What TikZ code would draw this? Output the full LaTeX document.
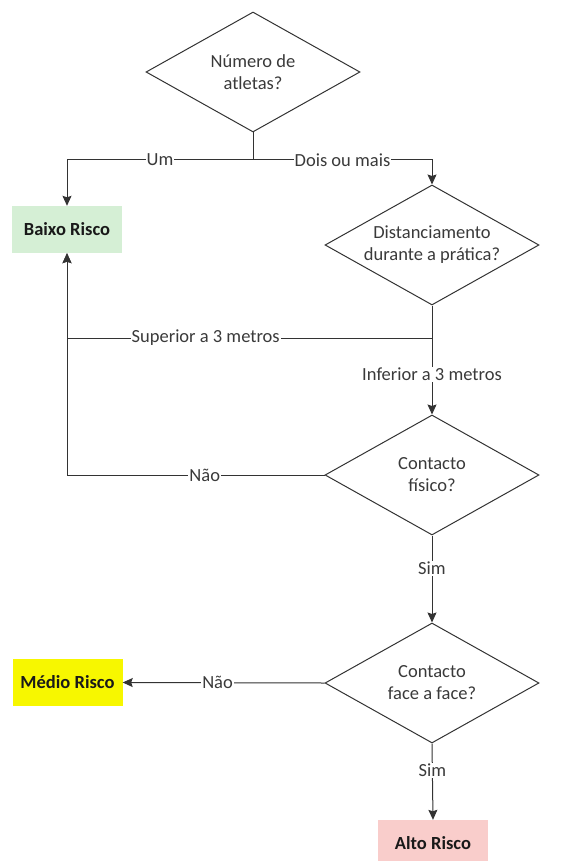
\documentclass[tikz,border=0pt]{standalone}
\usepackage{fontspec}
\setmainfont{Carlito}
\usetikzlibrary{shapes.geometric,arrows.meta}
\definecolor{lineC}{HTML}{333333}
\definecolor{textC}{HTML}{3A3A3A}
\definecolor{greenF}{HTML}{D5EFD5}
\definecolor{yellowF}{HTML}{F7F700}
\definecolor{pinkF}{HTML}{F9CDCB}
\tikzset{
  dia/.style={diamond, draw=lineC, line width=1pt, fill=white, minimum width=214pt, minimum height=120pt, inner sep=0pt},
  dtext/.style={align=center, text=textC, font=\fontsize{18.5}{22}\selectfont, inner sep=0pt},
  res/.style={minimum width=110pt, minimum height=47pt, inner sep=0pt, font=\bfseries\fontsize{18.5}{22}\selectfont, text=black!90},
  conn/.style={draw=lineC, line width=1pt},
  arr/.style={conn, -{Stealth[length=10pt,width=9pt,inset=1.5pt]}},
  lbl/.style={fill=white, text=textC, inner sep=1pt, font=\fontsize{18.5}{22}\selectfont}
}
\begin{document}
\begin{tikzpicture}[x=1pt,y=-1pt]
\useasboundingbox (0,0) rectangle (572,861);
\clip (0,0) rectangle (572,861);
% decisions
\node[dia] (d1) at (253,72) {};
\node[dtext] (t1) at (d1) {Número de\\atletas?};
\node[dia] (d2) at (432,245) {};
\node[dtext] (t2) at (d2) {Distanciamento\\durante a prática?};
\node[dia] (d3) at (432,475) {};
\node[dtext] (t3) at (d3) {Contacto\\físico?};
\node[dia] (d4) at (432,683) {};
\node[dtext] (t4) at (d4) {Contacto\\face a face?};
% results
\node[res, fill=greenF] (baixo) at (67,229.5) {Baixo Risco};
\node[res, fill=yellowF] (medio) at (67.5,682.5) {Médio Risco};
\node[res, fill=pinkF] (alto) at (433,843.5) {Alto Risco};
% junctions
\coordinate (j1) at (253,160);
\coordinate (j2) at (432,338);
% connectors
\draw[arr] (d1.south) -- (j1) -- node[lbl]{Um} (j1 -| baixo.north) -- (baixo.north);
\draw[arr] (d1.south) -- (j1) -- node[lbl]{Dois ou mais} (j1 -| d2.north) -- (d2.north);
\draw[arr] (d2.south) -- (j2) -- node[lbl, pos=0.62]{Superior a 3 metros} (j2 -| baixo.south) -- (baixo.south);
\draw[arr] (d2.south) -- node[lbl, pos=0.63]{Inferior a 3 metros} (d3.north);
\draw[arr] (d3.west) -- node[lbl, pos=0.465]{Não} (d3.west -| baixo.south) -- (baixo.south);
\draw[arr] (d3.south) -- node[lbl, pos=0.375]{Sim} (d4.north);
\draw[arr] (d4.west) -- node[lbl, pos=0.53]{Não} (medio.east);
\draw[arr] (d4.south) -- node[lbl, pos=0.35]{Sim} (alto.north);
\end{tikzpicture}
\end{document}
